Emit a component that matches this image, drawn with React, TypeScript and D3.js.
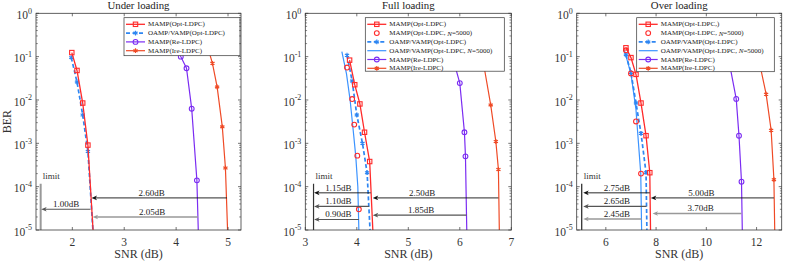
import * as d3 from "d3";

const FONT = "'Liberation Serif', 'Times New Roman', serif";
const W = 789;
const H = 261;
const PLOT_TOP = 13.3;
const PLOT_BOTTOM = 230;

// axis ticks
const berTicks = [1, 1e-1, 1e-2, 1e-3, 1e-4, 1e-5];
const berExponents = ["0", "-1", "-2", "-3", "-4", "-5"];
const underTicks = [2, 3, 4, 5];
const fullTicks = [3, 4, 5, 6, 7];
const overTicks = [6, 8, 10, 12];

const legendShort = ["MAMP(Opt-LDPC)", "OAMP/VAMP(Opt-LDPC)", "MAMP(Re-LDPC)", "MAMP(Ire-LDPC)"];
const legendFull = ["MAMP(Opt-LDPC)", "MAMP(Opt-LDPC, N=5000)", "OAMP/VAMP(Opt-LDPC)", "OAMP/VAMP(Opt-LDPC, N=5000)", "MAMP(Re-LDPC)", "MAMP(Ire-LDPC)"];
const legendOver = ["MAMP(Opt-LDPC,)", "MAMP(Opt-LDPC, N=5000)", "OAMP/VAMP(Opt-LDPC)", "OAMP/VAMP(Opt-LDPC, N=5000)", "MAMP(Re-LDPC)", "MAMP(Ire-LDPC)"];

// ---- under loading
const underOptSnr = [1.99, 2.09, 2.2, 2.3, 2.45];
const underOptBer = [0.124, 0.048, 0.0085, 0.00091, 1e-6];
const underOampSnr = [1.98, 2.09, 2.2, 2.3, 2.45];
const underOampBer = [0.095, 0.026, 0.0045, 0.00065, 1e-6];
const underReSnr = [4.0, 4.09, 4.2, 4.3, 4.4, 4.45];
const underReBer = [0.2, 0.1, 0.054, 0.0063, 0.00014, 1e-6];
const underIreSnr = [4.6, 4.7, 4.79, 4.89, 4.95, 5.02];
const underIreBer = [0.18, 0.07, 0.02, 0.0024, 0.00027, 1e-6];
const underLimit = 1.39;
const underArrowFrom = [4.98, 2.35, 4.42];
const underArrowTo = [2.37, 1.4, 2.39];
const underArrowBer = [5.5e-5, 3e-5, 2e-5];
const underArrowLabel = ["2.60dB", "1.00dB", "2.05dB"];
const underArrowLabelAt = [3.53, 1.88, 3.54];
const underArrowTone = ["black", "dark", "gray"];

// ---- full loading
const fullOptSnr = [3.86, 3.96, 4.06, 4.15, 4.25, 4.35];
const fullOptBer = [0.083, 0.0225, 0.0081, 0.0018, 0.00038, 1e-6];
const fullOpt5000Snr = [3.81, 3.91, 3.95, 4.01, 4.04];
const fullOpt5000Ber = [0.056, 0.0105, 0.0027, 0.00052, 3e-5];
const fullOampSnr = [3.81, 3.91, 4.0, 4.11, 4.2, 4.3];
const fullOampBer = [0.108, 0.0275, 0.0045, 0.001, 0.00021, 1e-6];
const fullOamp5000Snr = [3.71, 3.8, 3.87, 3.93, 3.98, 4.02, 4.06];
const fullOamp5000Ber = [0.13, 0.04, 0.01, 0.002, 0.0005, 0.0001, 1e-6];
const fullReSnr = [5.88, 6.0, 6.09, 6.11, 6.15];
const fullReBer = [0.08, 0.0245, 0.0018, 0.0005, 1e-6];
const fullIreSnr = [6.47, 6.6, 6.7, 6.75, 6.78];
const fullIreBer = [0.06, 0.0077, 0.0011, 0.00025, 1e-6];
const fullLimit = 3.16;
const fullArrowFrom = [4.27, 4.24, 4.04, 6.75, 6.13];
const fullArrowTo = [3.17, 3.17, 3.17, 4.31, 4.31];
const fullArrowBer = [7.2e-5, 3.5e-5, 1.75e-5, 5.5e-5, 2.2e-5];
const fullArrowLabel = ["1.15dB", "1.10dB", "0.90dB", "2.50dB", "1.85dB"];
const fullArrowLabelAt = [3.64, 3.64, 3.64, 5.27, 5.25];
const fullArrowTone = ["black", "dark", "dark", "black", "dark"];

// ---- over loading
const overOptSnr = [6.8, 7.0, 7.2, 7.4, 7.6, 7.75, 7.8];
const overOptBer = [0.16, 0.095, 0.039, 0.0085, 0.0015, 0.00021, 1e-6];
const overOpt5000Snr = [6.8, 7.0, 7.2, 7.4];
const overOpt5000Ber = [0.14, 0.041, 0.0032, 0.0002];
const overOampSnr = [6.8, 7.0, 7.2, 7.4, 7.6, 7.66];
const overOampBer = [0.11, 0.043, 0.0085, 0.0017, 0.00021, 1e-6];
const overOamp5000Snr = [6.74, 7.0, 7.2, 7.26, 7.39, 7.45];
const overOamp5000Ber = [0.14, 0.04, 0.006, 0.002, 0.0002, 1e-6];
const overReSnr = [10.9, 11.19, 11.3, 11.4, 11.46];
const overReBer = [0.08, 0.0106, 0.0015, 0.00013, 1e-6];
const overIreSnr = [12.1, 12.38, 12.58, 12.69, 12.75];
const overIreBer = [0.08, 0.0136, 0.002, 0.000145, 1e-6];
const overLimit = 5.04;
const overArrowFrom = [7.75, 7.62, 7.42, 12.69, 11.4];
const overArrowTo = [5.1, 5.1, 5.1, 7.79, 7.86];
const overArrowBer = [7.2e-5, 3.5e-5, 1.8e-5, 5.5e-5, 2.4e-5];
const overArrowLabel = ["2.75dB", "2.65dB", "2.45dB", "5.00dB", "3.70dB"];
const overArrowLabelAt = [6.44, 6.44, 6.44, 9.8, 9.77];
const overArrowTone = ["black", "dark", "gray", "black", "gray"];

type Pt = [number, number];
const zip = (xs: number[], ys: number[]): Pt[] => xs.map((v, i) => [v, ys[i]]);

const styles: any = {
  opt: { color: "#ff2a2a", width: 1.3, marker: "square", line: true },
  opt5000: { color: "#ff2a2a", width: 1.2, marker: "circle", line: false },
  oamp: { color: "#2e86f2", width: 1.7, dash: "4,2.5", marker: "asterisk", line: true },
  oamp5000: { color: "#3b93ff", width: 1.2, marker: null, line: true },
  re: { color: "#7b2cf2", width: 1.2, marker: "circle", line: true },
  ire: { color: "#ef4a26", width: 1.2, marker: "asterisk", line: true },
};

const tones: any = {
  black: { color: "#111", width: 0.9 },
  dark: { color: "#555", width: 1.1 },
  gray: { color: "#999", width: 1.6 },
};

const asteriskPath = d3.symbol((d3 as any).symbolAsterisk ?? d3.symbolCross, 16)() as string;

function Marker({ kind, color, cx, cy }: { kind: string; color: string; cx: number; cy: number }) {
  if (kind === "square")
    return <rect x={cx - 2.2} y={cy - 2.2} width={4.4} height={4.4} fill="none" stroke={color} strokeWidth={1.1} />;
  if (kind === "circle") return <circle cx={cx} cy={cy} r={2.4} fill="none" stroke={color} strokeWidth={1.1} />;
  return <path d={asteriskPath} transform={`translate(${cx},${cy})`} fill="none" stroke={color} strokeWidth={1.2} />;
}

function LegendText({ label, x, y }: { label: string; x: number; y: number }) {
  const parts = label.split("N=");
  return (
    <text x={x} y={y} fontSize={7} fill="#222" dominantBaseline="middle">
      {parts.length === 2 ? (
        <>
          {parts[0]}
          <tspan fontStyle="italic">N</tspan>
          {"=" + parts[1]}
        </>
      ) : (
        label
      )}
    </text>
  );
}

function Panel({ cfg, idx }: { cfg: any; idx: number }) {
  const x = d3.scaleLinear().domain(cfg.domain).range([cfg.left, cfg.right]);
  const y = d3.scaleLog().domain([1e-5, 1]).range([PLOT_BOTTOM, PLOT_TOP]);
  const line = d3
    .line<Pt>()
    .x((d) => x(d[0]))
    .y((d) => y(d[1]));
  const minor: number[] = [];
  for (let k = -5; k < 0; k++) for (let m = 2; m < 10; m++) minor.push(m * Math.pow(10, k));
  const clipId = `clip-${idx}`;
  const axisColor = "#3a3a3a";
  const lg = cfg.legend;
  const limitTop = y(1.17e-4);

  return (
    <g>
      <defs>
        <clipPath id={clipId}>
          <rect x={cfg.left} y={PLOT_TOP} width={cfg.right - cfg.left} height={PLOT_BOTTOM - PLOT_TOP} />
        </clipPath>
      </defs>

      <g clipPath={`url(#${clipId})`}>
        {cfg.series.map((s: any) => {
          const st = styles[s.key];
          const pts = zip(s.snr, s.ber);
          return (
            <g key={s.key}>
              {st.line && (
                <path d={line(pts) as string} fill="none" stroke={st.color} strokeWidth={st.width} strokeDasharray={st.dash} />
              )}
              {st.marker &&
                pts.map((p, i) => <Marker key={i} kind={st.marker} color={st.color} cx={x(p[0])} cy={y(p[1])} />)}
            </g>
          );
        })}

        {/* limit line */}
        <line
          x1={x(cfg.limit)}
          x2={x(cfg.limit)}
          y1={PLOT_BOTTOM}
          y2={limitTop}
          stroke={cfg.limitStyle.color}
          strokeWidth={cfg.limitStyle.width}
        />

        {/* arrows */}
        {cfg.arrows.from.map((f: number, i: number) => {
          const tone = tones[cfg.arrows.tone[i]];
          const yy = y(cfg.arrows.ber[i]);
          const tip = x(cfg.arrows.to[i]);
          return (
            <g key={i}>
              <line x1={x(f)} x2={tip + 3} y1={yy} y2={yy} stroke={tone.color} strokeWidth={tone.width} />
              <path d={`M${tip},${yy} L${tip + 5.5},${yy - 2.3} L${tip + 4},${yy} L${tip + 5.5},${yy + 2.3} Z`} fill={tone.color} />
            </g>
          );
        })}
      </g>

      {cfg.arrows.label.map((t: string, i: number) => (
        <text key={i} x={x(cfg.arrows.labelAt[i])} y={y(cfg.arrows.ber[i]) - 2.2} fontSize={9} textAnchor="middle" fill="#222">
          {t}
        </text>
      ))}
      <text x={x(cfg.limit) + 2} y={limitTop - 4.5} fontSize={9} fill="#333">
        limit
      </text>

      {/* legend */}
      <rect x={lg.left} y={lg.top} width={lg.width} height={lg.height} fill="#fff" stroke="#333" strokeWidth={0.7} />
      {cfg.legendLabels.map((label: string, i: number) => {
        const st = styles[cfg.legendKeys[i]];
        const cy = lg.top + 6.6 + i * 8.8;
        const x0 = lg.left + 2;
        const x1 = lg.left + 21;
        return (
          <g key={label + i}>
            {st.line && <line x1={x0} x2={x1} y1={cy} y2={cy} stroke={st.color} strokeWidth={st.width} strokeDasharray={st.dash} />}
            {st.marker && <Marker kind={st.marker} color={st.color} cx={(x0 + x1) / 2} cy={cy} />}
            <LegendText label={label} x={lg.left + 24} y={cy + 0.5} />
          </g>
        );
      })}

      {/* axes box */}
      <rect
        x={cfg.left}
        y={PLOT_TOP}
        width={cfg.right - cfg.left}
        height={PLOT_BOTTOM - PLOT_TOP}
        fill="none"
        stroke={axisColor}
        strokeWidth={0.8}
      />
      {cfg.ticks.map((t: number) => (
        <g key={t}>
          <line x1={x(t)} x2={x(t)} y1={PLOT_BOTTOM} y2={PLOT_BOTTOM - 3} stroke={axisColor} strokeWidth={0.7} />
          <line x1={x(t)} x2={x(t)} y1={PLOT_TOP} y2={PLOT_TOP + 3} stroke={axisColor} strokeWidth={0.7} />
          <text x={x(t)} y={245.5} fontSize={11.5} textAnchor="middle" fill="#333">
            {t}
          </text>
        </g>
      ))}
      {berTicks.map((t, i) => (
        <g key={t}>
          <line x1={cfg.left} x2={cfg.left + 3} y1={y(t)} y2={y(t)} stroke={axisColor} strokeWidth={0.7} />
          <line x1={cfg.right} x2={cfg.right - 3} y1={y(t)} y2={y(t)} stroke={axisColor} strokeWidth={0.7} />
          <text x={cfg.left - 4} y={y(t) + 5.8} fontSize={11.5} textAnchor="end" fill="#333">
            10
            <tspan fontSize={8} dy={-5.5}>
              {berExponents[i]}
            </tspan>
          </text>
        </g>
      ))}
      {minor.map((t) => (
        <g key={t}>
          <line x1={cfg.left} x2={cfg.left + 1.8} y1={y(t)} y2={y(t)} stroke={axisColor} strokeWidth={0.6} />
          <line x1={cfg.right} x2={cfg.right - 1.8} y1={y(t)} y2={y(t)} stroke={axisColor} strokeWidth={0.6} />
        </g>
      ))}

      <text x={(cfg.left + cfg.right) / 2} y={8.5} fontSize={10.8} textAnchor="middle" fill="#222">
        {cfg.title}
      </text>
      <text x={(cfg.left + cfg.right) / 2} y={258} fontSize={12} textAnchor="middle" fill="#333">
        SNR (dB)
      </text>
      {cfg.yLabel && (
        <text transform={`translate(11,${(PLOT_TOP + PLOT_BOTTOM) / 2}) rotate(-90)`} fontSize={12} textAnchor="middle" fill="#333">
          BER
        </text>
      )}
    </g>
  );
}

const fullKeys = ["opt", "opt5000", "oamp", "oamp5000", "re", "ire"];

const panels = [
  {
    title: "Under loading",
    domain: [1.3, 5.25],
    left: 36,
    right: 241,
    ticks: underTicks,
    yLabel: true,
    series: [
      { key: "ire", snr: underIreSnr, ber: underIreBer },
      { key: "re", snr: underReSnr, ber: underReBer },
      { key: "oamp", snr: underOampSnr, ber: underOampBer },
      { key: "opt", snr: underOptSnr, ber: underOptBer },
    ],
    legendKeys: ["opt", "oamp", "re", "ire"],
    legendLabels: legendShort,
    legend: { left: 124, top: 17.7, width: 116, height: 38 },
    limit: underLimit,
    limitStyle: { color: "#999", width: 2 },
    arrows: {
      from: underArrowFrom,
      to: underArrowTo,
      ber: underArrowBer,
      label: underArrowLabel,
      labelAt: underArrowLabelAt,
      tone: underArrowTone,
    },
  },
  {
    title: "Full loading",
    domain: [3, 7],
    left: 305.3,
    right: 511.3,
    ticks: fullTicks,
    yLabel: false,
    series: [
      { key: "ire", snr: fullIreSnr, ber: fullIreBer },
      { key: "re", snr: fullReSnr, ber: fullReBer },
      { key: "oamp5000", snr: fullOamp5000Snr, ber: fullOamp5000Ber },
      { key: "oamp", snr: fullOampSnr, ber: fullOampBer },
      { key: "opt", snr: fullOptSnr, ber: fullOptBer },
      { key: "opt5000", snr: fullOpt5000Snr, ber: fullOpt5000Ber },
    ],
    legendKeys: fullKeys,
    legendLabels: legendFull,
    legend: { left: 365.3, top: 17.7, width: 139, height: 53.5 },
    limit: fullLimit,
    limitStyle: { color: "#333", width: 1.2 },
    arrows: {
      from: fullArrowFrom,
      to: fullArrowTo,
      ber: fullArrowBer,
      label: fullArrowLabel,
      labelAt: fullArrowLabelAt,
      tone: fullArrowTone,
    },
  },
  {
    title: "Over loading",
    domain: [4.84, 13],
    left: 576.7,
    right: 781.7,
    ticks: overTicks,
    yLabel: false,
    series: [
      { key: "ire", snr: overIreSnr, ber: overIreBer },
      { key: "re", snr: overReSnr, ber: overReBer },
      { key: "oamp5000", snr: overOamp5000Snr, ber: overOamp5000Ber },
      { key: "oamp", snr: overOampSnr, ber: overOampBer },
      { key: "opt", snr: overOptSnr, ber: overOptBer },
      { key: "opt5000", snr: overOpt5000Snr, ber: overOpt5000Ber },
    ],
    legendKeys: fullKeys,
    legendLabels: legendOver,
    legend: { left: 636.7, top: 17.7, width: 137.6, height: 54 },
    limit: overLimit,
    limitStyle: { color: "#222", width: 1.2 },
    arrows: {
      from: overArrowFrom,
      to: overArrowTo,
      ber: overArrowBer,
      label: overArrowLabel,
      labelAt: overArrowLabelAt,
      tone: overArrowTone,
    },
  },
];

export default function App() {
  return (
    <svg
      width={W}
      height={H}
      viewBox={`0 0 ${W} ${H}`}
      style={{ position: "absolute", left: 0, top: 0, background: "#fff" }}
      fontFamily={FONT}
    >
      <rect width={W} height={H} fill="#fff" />
      {panels.map((p, i) => (
        <Panel key={p.title} cfg={p} idx={i} />
      ))}
    </svg>
  );
}
